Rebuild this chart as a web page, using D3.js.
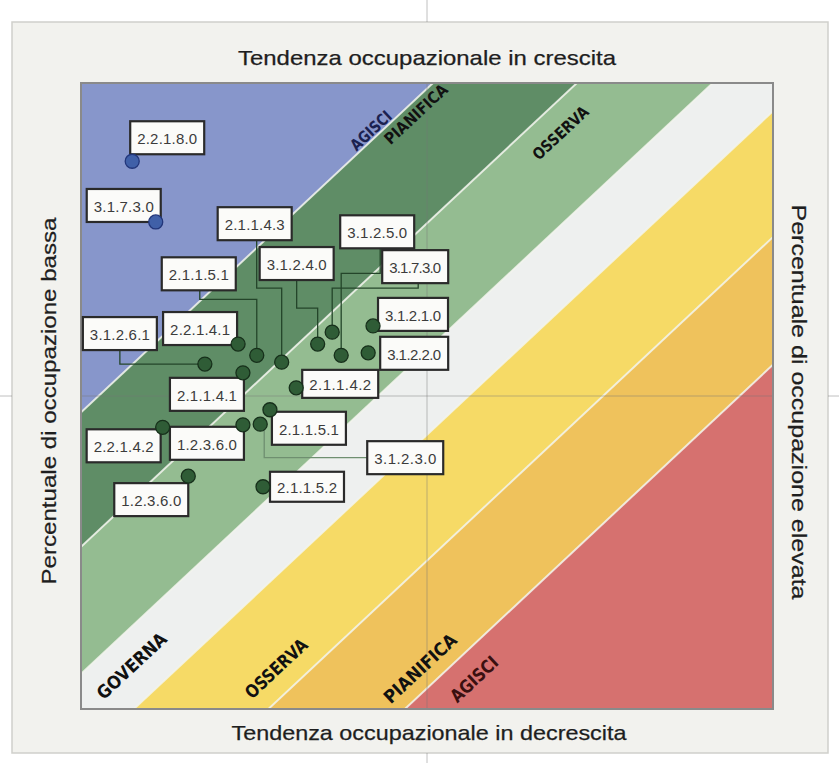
<!DOCTYPE html>
<html><head><meta charset="utf-8">
<script src="https://cdn.jsdelivr.net/npm/d3@7"></script>
<style>body{margin:0;background:#fff;} svg{display:block;}</style>
</head><body><svg id="c" width="839" height="763"></svg>
<script>
// ---------- data ----------
const codes = ["2.2.1.8.0","3.1.7.3.0","2.2.1.4.1","2.1.1.5.1","2.1.1.4.3","3.1.2.6.1","2.1.1.4.1","3.1.2.4.0","3.1.7.3.0","3.1.2.5.0","3.1.2.1.0","3.1.2.2.0","2.1.1.4.2","2.2.1.4.2","1.2.3.6.0","3.1.2.3.0","2.1.1.5.1","1.2.3.6.0","2.1.1.5.2"];
const xValues = [7.4,10.8,22.7,25.4,29.0,17.9,23.4,34.2,36.3,37.6,42.2,41.5,31.1,11.8,23.4,25.9,27.3,15.5,26.3];
const yValues = [87.5,77.8,58.3,56.5,55.4,55.1,53.7,58.3,60.2,56.5,61.2,56.9,51.3,45.0,45.4,45.5,47.8,37.2,35.5];

const zoneNames = ["AGISCI","PIANIFICA","OSSERVA","GOVERNA","OSSERVA","PIANIFICA","AGISCI"];
const zoneBoundaries = [47.4, 25.9, 5.6, -7.9, -28.0, -48.4]; // intercepts of the diagonal lines
const boundarySlope = 1.034;

const titleTop = "Tendenza occupazionale in crescita";
const titleBottom = "Tendenza occupazionale in decrescita";
const titleLeft = "Percentuale di occupazione bassa";
const titleRight = "Percentuale di occupazione elevata";

// ---------- layout / styles ----------
const zoneColors = ["#8796cb","#5f8d66","#94bc91","#eef0ef","#f6da66","#efc25c","#d6716f"];
const zoneLabelPos = [
  {zone:0, x:41.9, y:92.4, len:50, fs:16, col:"#1b2150"},
  {zone:1, x:48.4, y:95.0, len:80, fs:16, col:"#111"},
  {zone:2, x:69.3, y:92.0, len:70, fs:16, col:"#111"},
  {zone:3, x:7.3, y:6.9, len:88, fs:18, col:"#111"},
  {zone:4, x:28.2, y:6.5, len:78, fs:18, col:"#111"},
  {zone:5, x:49.0, y:6.5, len:92, fs:18, col:"#111"},
  {zone:6, x:56.8, y:4.8, len:58, fs:18, col:"#3a1010"}
];
const labelLayout = [
  {dx:-2, dy:-40},
  {dx:-69, dy:-33},
  {dx:-75, dy:-32},
  {dx:-95, dy:-98, conn:"b", ax:38, ey:9},
  {dx:-64, dy:-155, conn:"b", ax:39, ey:48},
  {dx:-122, dy:-47, conn:"b", ax:37, ey:14},
  {dx:-73, dy:5},
  {dx:-58, dy:-97, conn:"b", ax:37, ey:28},
  {dx:50, dy:-82, conn:"b", ax:36, ey:5, w:66},
  {dx:-1, dy:-140, conn:"b", ax:40, ey:25},
  {dx:5, dy:-28, w:70},
  {dx:12, dy:-16, w:68},
  {dx:6, dy:-18, w:76, h:28},
  {dx:-76, dy:2},
  {dx:-73, dy:2},
  {dx:107, dy:17, conn:"l", w:76},
  {dx:2, dy:2},
  {dx:-74, dy:7},
  {dx:7, dy:-15, h:30}
];

const W = 839, H = 763;
const plot = {l:81, r:773, t:83, b:709};
const svg = d3.select("#c");

const x = d3.scaleLinear().domain([0,100]).range([plot.l, plot.r]);
const y = d3.scaleLinear().domain([0,100]).range([plot.b, plot.t]);

svg.append("rect").attr("x",12).attr("y",22).attr("width",816).attr("height",731)
  .attr("fill","#f2f2ee").attr("stroke","#cfcfcb").attr("stroke-width",1.5);

svg.append("clipPath").attr("id","pc").append("rect")
  .attr("x",plot.l).attr("y",plot.t).attr("width",plot.r-plot.l).attr("height",plot.b-plot.t);

const g = svg.append("g").attr("clip-path","url(#pc)");
const ext = [-60, 160];
const bounds = [300, ...zoneBoundaries, -300];
zoneColors.forEach((c,i)=>{
  const bu = bounds[i], bl = bounds[i+1];
  const pts = [[ext[0], boundarySlope*ext[0]+bu],[ext[1], boundarySlope*ext[1]+bu],
               [ext[1], boundarySlope*ext[1]+bl],[ext[0], boundarySlope*ext[0]+bl]];
  g.append("path").attr("d", d3.line().x(d=>x(d[0])).y(d=>y(d[1]))(pts)+"Z").attr("fill",c);
});
zoneBoundaries.forEach(b=>{
  g.append("line").attr("x1",x(ext[0])).attr("y1",y(boundarySlope*ext[0]+b))
   .attr("x2",x(ext[1])).attr("y2",y(boundarySlope*ext[1]+b))
   .attr("stroke","#f3f5ee").attr("stroke-width",2).attr("opacity",0.85);
});

const cx = x(50), cy = y(50);
[[0,22],[plot.t,plot.b],[753,H]].forEach(s=>svg.append("line").attr("x1",cx).attr("x2",cx).attr("y1",s[0]).attr("y2",s[1])
  .attr("stroke","#777").attr("stroke-width",1).attr("opacity",0.45));
[[0,12],[plot.l,plot.r],[828,W]].forEach(s=>svg.append("line").attr("y1",cy).attr("y2",cy).attr("x1",s[0]).attr("x2",s[1])
  .attr("stroke","#777").attr("stroke-width",1).attr("opacity",0.45));

svg.append("rect").attr("x",plot.l).attr("y",plot.t).attr("width",plot.r-plot.l).attr("height",plot.b-plot.t)
  .attr("fill","none").attr("stroke","#8a8a8a").attr("stroke-width",2);

zoneLabelPos.forEach(p=>{
  svg.append("text").attr("transform",`translate(${x(p.x)},${y(p.y)}) rotate(-43)`)
    .attr("text-anchor","middle").attr("dominant-baseline","central")
    .attr("font-family","DejaVu Sans, Verdana, sans-serif").attr("font-weight","bold")
    .attr("font-size",p.fs).attr("fill",p.col)
    .attr("textLength",p.len).attr("lengthAdjust","spacingAndGlyphs")
    .text(zoneNames[p.zone]);
});

const tfont = "Liberation Sans, Arial, sans-serif";
function title(txt, tx, ty, rot, len){
  svg.append("text").attr("transform",`translate(${tx},${ty}) rotate(${rot})`)
   .attr("text-anchor","middle").attr("font-family",tfont).attr("font-size",21).attr("fill","#1e1e1e")
   .attr("stroke","#1e1e1e").attr("stroke-width",0.25)
   .attr("textLength",len).attr("lengthAdjust","spacingAndGlyphs").text(txt);
}
title(titleTop, 427, 65, 0, 378);
title(titleBottom, 429, 740, 0, 395);
title(titleLeft, 56, 401, -90, 367);
title(titleRight, 792, 402, 90, 395);

const pts = codes.map((c,i)=>({code:c, vx:xValues[i], vy:yValues[i], lay:labelLayout[i]}));
pts.forEach(d=>{
  d.px = x(d.vx); d.py = y(d.vy);
  d.bx = d.px + d.lay.dx; d.by = d.py + d.lay.dy;
  d.bw = d.lay.w || 74; d.bh = d.lay.h || 33;
  d.blue = d.vy > boundarySlope*d.vx + zoneBoundaries[0];
});

const cg = svg.append("g");
pts.filter(d=>d.lay.conn).forEach(d=>{
  let path;
  if(d.lay.conn==="b"){
    const ax = d.bx + d.lay.ax, ay = d.by + d.bh, ey = ay + d.lay.ey;
    path = (d.py > ey + 2) ? [[ax,ay],[ax,ey],[d.px,ey],[d.px,d.py]] : [[ax,ay],[ax,d.py],[d.px,d.py]];
  } else {
    const ax = d.bx, ay = d.by + d.bh/2;
    path = [[ax,ay],[d.px+4,ay],[d.px+4,d.py]];
  }
  cg.append("path").attr("d", d3.line()(path)).attr("fill","none")
    .attr("stroke", d.blue ? "#2c3f80" : (d.lay.conn==="l" ? "#6f8f70" : "#24452a")).attr("stroke-width",1.3);
});

const lg = svg.append("g");
pts.forEach(d=>{
  lg.append("rect").attr("x",d.bx).attr("y",d.by).attr("width",d.bw).attr("height",d.bh)
    .attr("fill","#fbfbf9").attr("stroke","#2a2a2a").attr("stroke-width",2.2);
  lg.append("text").attr("x",d.bx+d.bw/2).attr("y",d.by+d.bh/2+1).attr("text-anchor","middle")
    .attr("dominant-baseline","central").attr("font-family","Liberation Sans, Arial, sans-serif")
    .attr("font-size",15).attr("fill","#3c3c3c").attr("textLength",d.bw-14).attr("lengthAdjust","spacing")
    .text(d.code);
});

svg.append("g").selectAll("circle").data(pts).join("circle")
  .attr("cx",d=>d.px).attr("cy",d=>d.py).attr("r",7)
  .attr("fill",d=>d.blue ? "#4060a8" : "#2f5c36")
  .attr("stroke",d=>d.blue ? "#22367a" : "#17301b").attr("stroke-width",1.3);
</script></body></html>
